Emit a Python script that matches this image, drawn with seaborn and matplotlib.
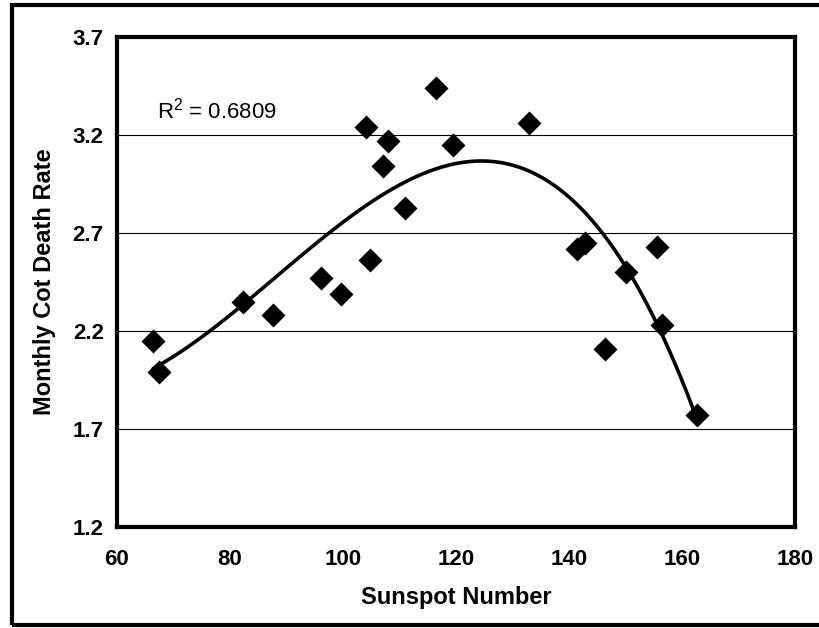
import numpy as np
import pandas as pd
import matplotlib
matplotlib.use('Agg')
import matplotlib.pyplot as plt
from matplotlib.patches import Rectangle
import seaborn as sns

sunspots = [66.4, 67.4, 82.3, 87.6, 96.1, 99.6, 104.1, 104.8, 107.1, 108.0, 111.0,
            116.5, 119.5, 132.9, 141.4, 142.8, 146.4, 150.1, 155.6, 156.5, 162.6]
death_rate = [2.15, 1.99, 2.35, 2.28, 2.47, 2.39, 3.24, 2.56, 3.04, 3.17, 2.83,
              3.44, 3.15, 3.26, 2.62, 2.65, 2.11, 2.50, 2.63, 2.23, 1.77]
x_ticks = [60, 80, 100, 120, 140, 160, 180]
y_ticks = [1.2, 1.7, 2.2, 2.7, 3.2, 3.7]

df = pd.DataFrame({'sunspots': sunspots, 'rate': death_rate})

sns.set_theme(style='white')
plt.rcParams['font.family'] = ['Liberation Sans', 'DejaVu Sans']
plt.rcParams['mathtext.default'] = 'regular'
plt.rcParams['text.color'] = 'black'
plt.rcParams['xtick.color'] = 'black'
plt.rcParams['ytick.color'] = 'black'
plt.rcParams['axes.labelcolor'] = 'black'

fig = plt.figure(figsize=(8.19, 6.28), dpi=100)
ax = fig.add_axes([117 / 819, 1 - 527 / 628, (795 - 117) / 819, (527 - 37) / 628])

# horizontal gridlines (Excel style, only inside)
for yv in y_ticks[1:-1]:
    ax.axhline(yv, color='black', lw=0.8, zorder=1)

# scatter + 3rd order polynomial trendline (R^2 ~ 0.68)
sns.regplot(data=df, x='sunspots', y='rate', order=3, ci=None, truncate=True, ax=ax,
            marker='D', color='black',
            scatter_kws={'s': 150, 'linewidths': 0, 'zorder': 3, 'alpha': 1},
            line_kws={'lw': 2.6, 'color': 'black', 'zorder': 2})

ax.set_xlim(60, 180)
ax.set_ylim(1.2, 3.7)
ax.set_xticks(x_ticks)
ax.set_yticks(y_ticks)
ax.set_yticklabels([f'{v:.1f}' for v in y_ticks])
ax.tick_params(axis='both', direction='out', length=4.5, width=2.5, labelsize=16)
ax.tick_params(axis='x', pad=11)
ax.tick_params(axis='y', pad=5)
for lbl in ax.get_xticklabels() + ax.get_yticklabels():
    lbl.set_fontweight('bold')
for s in ax.spines.values():
    s.set_linewidth(3)
    s.set_color('black')

ax.set_xlabel('Sunspot Number', fontsize=17, fontweight='bold', labelpad=12)
ax.set_ylabel('Monthly Cot Death Rate', fontsize=17, fontweight='bold', labelpad=12)

ax.text(67.1, 3.282, 'R$^2$ = 0.6809', fontsize=16, va='baseline')

# outer chart-area border
fig.patches.append(Rectangle((12 / 819, 3 / 628), 1.2, 620 / 628, transform=fig.transFigure,
                             fill=False, lw=3, edgecolor='black', clip_on=False))

fig.savefig('out.png', dpi=100)
